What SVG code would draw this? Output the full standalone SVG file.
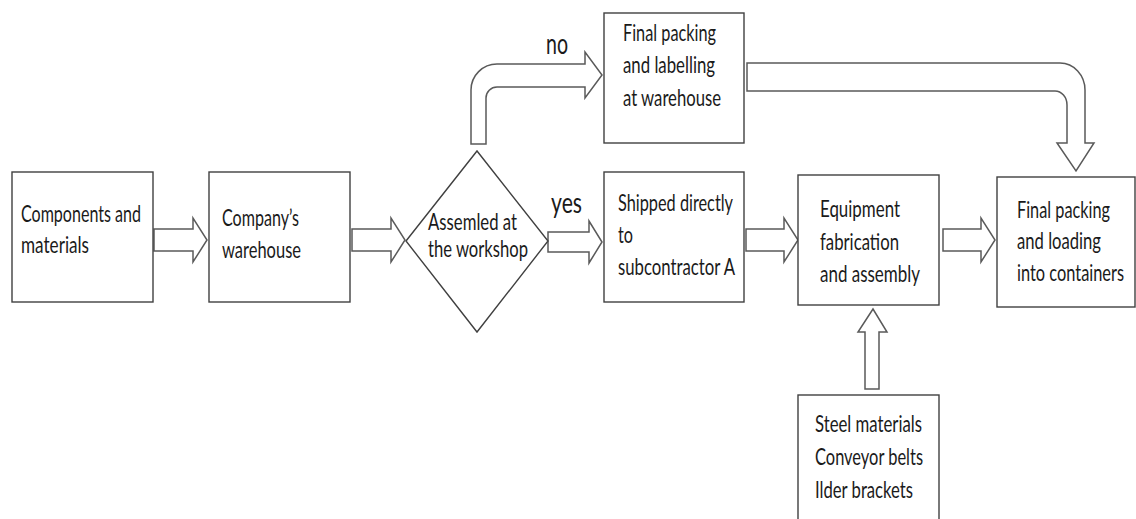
<svg xmlns="http://www.w3.org/2000/svg" width="1136" height="519" viewBox="0 0 1136 519">
<style>
.box{fill:#ffffff;stroke:#404040;stroke-width:1.4}
.arr{fill:#ffffff;stroke:#5a5a5a;stroke-width:1.5;stroke-linejoin:miter}
.t{font-family:Lato,"Open Sans","DejaVu Sans",sans-serif;font-size:24px;fill:#1a1a1a}
.lbl{font-family:Lato,"Open Sans","DejaVu Sans",sans-serif;font-size:29px;fill:#1a1a1a}
</style>
<rect width="1136" height="519" fill="#ffffff"/>
<g id="connectors">
<polygon class="arr" points="154,229 193,229 193,218 207,240 193,262 193,251 154,251"/>
<polygon class="arr" points="352,229 391,229 391,218 405,240 391,262 391,251 352,251"/>
<polygon class="arr" points="548,232 589,232 589,221 602,242 589,263 589,252 548,252"/>
<polygon class="arr" points="746,229 784,229 784,218 798,240 784,262 784,251 746,251"/>
<polygon class="arr" points="943,229 981,229 981,218 995,240 981,262 981,251 943,251"/>
<path class="arr" d="M471,144 V90 A26,26 0 0 1 497,64 H585 V52 L602,75 L585,98 V87 H497 A11,11 0 0 0 486,98 V144 Z"/>
<path class="arr" d="M747,63 H1060 A25,27 0 0 1 1085,90 V143 H1094 L1076,171 L1057,143 H1067 V105 A12,14 0 0 0 1055,91 H747 Z"/>
<polygon class="arr" points="865,389 865,332 858,332 873,309 887,332 879,332 879,389"/>
<text class="lbl" x="546" y="54" textLength="22" lengthAdjust="spacingAndGlyphs">no</text>
<text class="lbl" x="551" y="213" textLength="31" lengthAdjust="spacingAndGlyphs">yes</text>
</g>
<g id="components">
<rect class="box" x="12" y="172" width="141" height="130"/>
<text class="t" x="21" y="222" textLength="120" lengthAdjust="spacingAndGlyphs">Components and</text>
<text class="t" x="21" y="253" textLength="68" lengthAdjust="spacingAndGlyphs">materials</text>
</g>
<g id="warehouse">
<rect class="box" x="209" y="172" width="141" height="130"/>
<text class="t" x="222" y="226" textLength="77" lengthAdjust="spacingAndGlyphs">Company’s</text>
<text class="t" x="222" y="258" textLength="79" lengthAdjust="spacingAndGlyphs">warehouse</text>
</g>
<g id="decision">
<polygon class="box" points="406,241 477,151 548,241 477,332"/>
<text class="t" x="428" y="230" textLength="89" lengthAdjust="spacingAndGlyphs">Assemled at</text>
<text class="t" x="428" y="257" textLength="100" lengthAdjust="spacingAndGlyphs">the workshop</text>
</g>
<g id="final-labelling">
<rect class="box" x="604" y="13" width="140" height="130"/>
<text class="t" x="623" y="41" textLength="93" lengthAdjust="spacingAndGlyphs">Final packing</text>
<text class="t" x="623" y="73" textLength="92" lengthAdjust="spacingAndGlyphs">and labelling</text>
<text class="t" x="623" y="106" textLength="98" lengthAdjust="spacingAndGlyphs">at warehouse</text>
</g>
<g id="shipped">
<rect class="box" x="604" y="172" width="140" height="130"/>
<text class="t" x="618" y="211" textLength="115" lengthAdjust="spacingAndGlyphs">Shipped directly</text>
<text class="t" x="618" y="243" textLength="15" lengthAdjust="spacingAndGlyphs">to</text>
<text class="t" x="618" y="275" textLength="117" lengthAdjust="spacingAndGlyphs">subcontractor A</text>
</g>
<g id="fabrication">
<rect class="box" x="798" y="175" width="141" height="130"/>
<text class="t" x="820" y="217" textLength="80" lengthAdjust="spacingAndGlyphs">Equipment</text>
<text class="t" x="820" y="250" textLength="79" lengthAdjust="spacingAndGlyphs">fabrication</text>
<text class="t" x="820" y="282" textLength="100" lengthAdjust="spacingAndGlyphs">and assembly</text>
</g>
<g id="final-loading">
<rect class="box" x="997" y="177" width="138" height="130"/>
<text class="t" transform="translate(1017,218) scale(0.75,1)" x="0" y="0" textLength="124" lengthAdjust="spacingAndGlyphs">Final packing</text>
<text class="t" transform="translate(1017,249) scale(0.75,1)" x="0" y="0" textLength="112" lengthAdjust="spacingAndGlyphs">and loading</text>
<text class="t" transform="translate(1017,281) scale(0.75,1)" x="0" y="0" textLength="142.7" lengthAdjust="spacingAndGlyphs">into containers</text>
</g>
<g id="materials">
<rect class="box" x="798" y="395" width="141" height="130"/>
<text class="t" x="815" y="432" textLength="107" lengthAdjust="spacingAndGlyphs">Steel materials</text>
<text class="t" x="815" y="465" textLength="108" lengthAdjust="spacingAndGlyphs">Conveyor belts</text>
<text class="t" x="815" y="498" textLength="98" lengthAdjust="spacingAndGlyphs">Ilder brackets</text>
</g>
</svg>
